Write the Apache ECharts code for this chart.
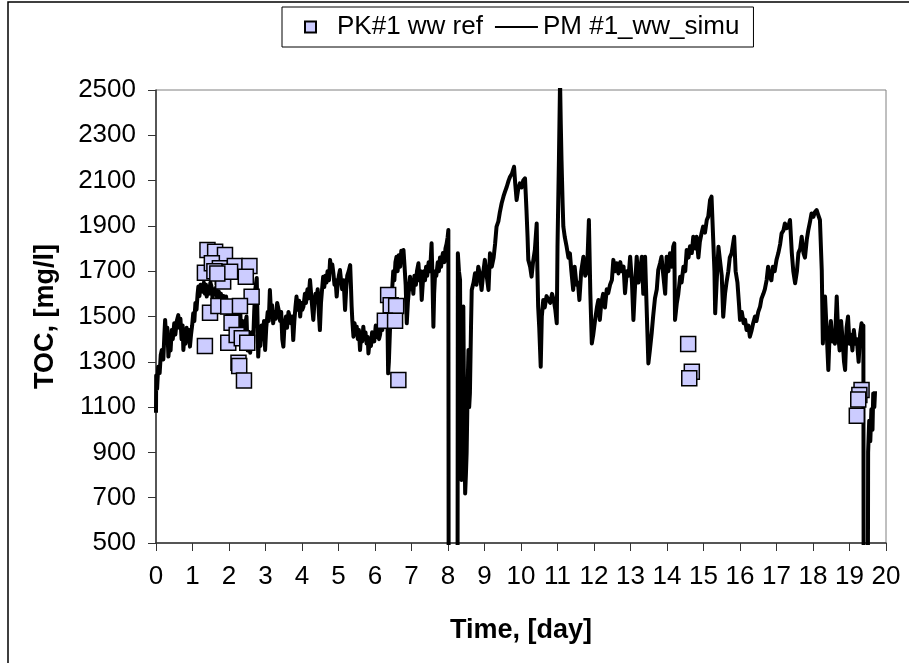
<!DOCTYPE html>
<html>
<head>
<meta charset="utf-8">
<script src="https://cdn.jsdelivr.net/npm/echarts@6/dist/echarts.min.js"></script>
<style>html,body{margin:0;padding:0;background:#fff}#c{width:909px;height:663px}</style>
</head>
<body>
<div id="c"></div>
<script>
// Simulated TOC (PM #1_ww_simu): [day, mg/l]
const simuPoints = [
[0,1075],[0.005,1240],[0.03,1180],[0.06,1278],[0.1,1250],[0.13,1330],[0.16,1352],[0.2,1310],[0.23,1420],[0.25,1485],[0.28,1400],[0.31,1450],[0.34,1323],[0.37,1380],[0.4,1350],[0.43,1440],[0.46,1400],[0.5,1470],[0.53,1420],[0.57,1480],[0.61,1506],[0.64,1450],[0.67,1490],[0.7,1400],[0.73,1460],[0.75,1352],[0.78,1420],[0.81,1380],[0.84,1450],[0.87,1400],[0.9,1440],[0.93,1367],[0.96,1420],[0.99,1460],
[1.02,1514],[1.05,1480],[1.08,1560],[1.11,1530],[1.14,1600],[1.16,1632],[1.19,1590],[1.22,1640],[1.25,1647],[1.28,1610],[1.31,1650],[1.34,1600],[1.37,1640],[1.39,1588],[1.42,1630],[1.45,1600],[1.49,1650],[1.52,1632],[1.55,1580],[1.58,1620],[1.62,1600],[1.65,1630],[1.68,1570],[1.72,1610],[1.75,1560],[1.78,1600],[1.82,1540],[1.85,1590],[1.88,1520],[1.92,1588],[1.95,1540],[1.98,1490],
[2.02,1550],[2.05,1470],[2.09,1530],[2.12,1460],[2.16,1540],[2.2,1480],[2.24,1550],[2.28,1455],[2.31,1515],[2.34,1400],[2.37,1480],[2.41,1360],[2.44,1460],[2.48,1500],[2.51,1350],[2.55,1420],[2.58,1340],[2.62,1430],[2.66,1380],[2.69,1520],[2.72,1620],[2.76,1670],[2.78,1500],[2.8,1323],[2.83,1420],[2.86,1370],[2.89,1460],[2.92,1400],[2.96,1480],[2.99,1352],
[3.02,1450],[3.06,1520],[3.09,1480],[3.12,1617],[3.15,1520],[3.18,1550],[3.21,1470],[3.25,1520],[3.28,1490],[3.32,1560],[3.36,1529],[3.4,1480],[3.43,1520],[3.46,1400],[3.49,1367],[3.52,1460],[3.56,1500],[3.59,1450],[3.63,1520],[3.67,1514],[3.7,1470],[3.73,1500],[3.76,1396],[3.79,1480],[3.82,1540],[3.85,1588],[3.88,1530],[3.92,1570],[3.95,1500],[3.98,1560],
[4.01,1530],[4.04,1544],[4.08,1600],[4.11,1560],[4.15,1620],[4.18,1580],[4.22,1661],[4.25,1600],[4.28,1540],[4.31,1485],[4.34,1560],[4.37,1600],[4.4,1573],[4.43,1620],[4.46,1520],[4.49,1440],[4.52,1560],[4.55,1620],[4.58,1676],[4.61,1630],[4.64,1680],[4.67,1650],[4.7,1700],[4.74,1660],[4.77,1750],[4.8,1700],[4.83,1730],[4.86,1691],[4.89,1640],[4.92,1660],[4.95,1588],[4.98,1650],
[5.01,1680],[5.04,1705],[5.07,1660],[5.1,1620],[5.14,1660],[5.18,1529],[5.21,1620],[5.24,1680],[5.28,1700],[5.32,1727],[5.34,1640],[5.36,1544],[5.38,1480],[5.41,1411],[5.44,1470],[5.47,1430],[5.5,1455],[5.53,1400],[5.56,1440],[5.59,1352],[5.62,1420],[5.65,1390],[5.68,1455],[5.71,1400],[5.74,1430],[5.77,1380],[5.8,1410],[5.82,1337],[5.86,1400],[5.89,1370],[5.92,1430],[5.95,1426],[5.98,1390],
[6.02,1460],[6.05,1410],[6.08,1450],[6.11,1400],[6.14,1420],[6.17,1470],[6.2,1440],[6.23,1499],[6.26,1460],[6.3,1520],[6.34,1500],[6.36,1249],[6.38,1300],[6.41,1440],[6.44,1560],[6.47,1620],[6.5,1700],[6.53,1660],[6.56,1740],[6.59,1764],[6.62,1700],[6.65,1770],[6.69,1720],[6.72,1790],[6.75,1750],[6.78,1794],[6.81,1720],[6.84,1640],[6.87,1470],[6.9,1560],[6.93,1620],[6.96,1676],[6.99,1620],
[7.02,1660],[7.05,1600],[7.08,1680],[7.12,1640],[7.15,1700],[7.19,1735],[7.22,1660],[7.25,1700],[7.28,1573],[7.31,1650],[7.34,1700],[7.37,1660],[7.4,1720],[7.43,1680],[7.47,1740],[7.51,1700],[7.55,1823],[7.57,1700],[7.6,1455],[7.62,1600],[7.65,1700],[7.68,1680],[7.72,1740],[7.75,1700],[7.78,1760],[7.81,1720],[7.83,1750],[7.86,1780],[7.9,1740],[7.93,1800],[7.96,1820],[7.99,1850],
[8.01,1882],[8.02,0],[8.26,0],[8.27,1779],[8.3,1700],[8.33,1661],[8.35,1000],[8.37,778],[8.4,1200],[8.42,1544],[8.44,1100],[8.47,719],[8.49,800],[8.51,896],[8.54,1200],[8.56,1352],[8.58,1100],[8.6,1160],[8.63,1450],[8.65,1617],[8.7,1650],[8.74,1691],[8.78,1640],[8.83,1720],[8.88,1680],[8.92,1617],[8.97,1700],
[9.01,1750],[9.06,1680],[9.11,1617],[9.15,1779],[9.2,1720],[9.25,1760],[9.29,1820],[9.33,1897],[9.38,1920],[9.42,1960],[9.47,2000],[9.52,2030],[9.56,2050],[9.61,2073],[9.66,2100],[9.7,2117],[9.75,2130],[9.81,2161],[9.84,2090],[9.88,2014],[9.92,2060],[9.97,2088],
[10.02,2070],[10.06,2100],[10.11,2110],[10.13,2040],[10.15,1970],[10.18,1850],[10.2,1750],[10.25,1720],[10.29,1676],[10.33,1740],[10.38,1794],[10.43,1911],[10.45,1700],[10.47,1544],[10.5,1450],[10.54,1278],[10.57,1500],[10.61,1573],[10.65,1540],[10.7,1590],[10.75,1590],[10.8,1560],[10.85,1600],[10.9,1570],[10.94,1530],[10.98,1470],
[11.0,1808],[11.04,2200],[11.07,2537],[11.09,2350],[11.11,2191],[11.14,2000],[11.16,1897],[11.2,1850],[11.25,1808],[11.3,1760],[11.34,1779],[11.38,1700],[11.43,1617],[11.47,1720],[11.52,1640],[11.56,1650],[11.6,1573],[11.65,1700],[11.71,1764],[11.76,1680],[11.81,1700],[11.86,1926],[11.9,1600],[11.94,1381],[11.98,1420],
[12.03,1485],[12.08,1540],[12.12,1573],[12.16,1485],[12.2,1560],[12.25,1600],[12.3,1540],[12.35,1620],[12.39,1603],[12.44,1640],[12.49,1661],[12.53,1750],[12.58,1700],[12.62,1735],[12.67,1690],[12.72,1740],[12.76,1700],[12.81,1720],[12.85,1603],[12.9,1700],[12.95,1680],[12.99,1764],
[13.04,1650],[13.08,1485],[13.12,1620],[13.17,1764],[13.22,1650],[13.26,1700],[13.31,1764],[13.35,1600],[13.4,1764],[13.44,1550],[13.49,1293],[13.53,1350],[13.58,1426],[13.62,1500],[13.67,1580],[13.72,1620],[13.76,1705],[13.81,1735],[13.85,1764],[13.9,1680],[13.95,1600],[13.99,1764],
[14.04,1700],[14.08,1779],[14.13,1720],[14.17,1808],[14.2,1823],[14.22,1485],[14.27,1560],[14.31,1600],[14.36,1676],[14.4,1650],[14.45,1720],[14.5,1700],[14.54,1794],[14.59,1760],[14.63,1810],[14.68,1780],[14.72,1852],[14.77,1800],[14.81,1852],[14.86,1760],[14.9,1830],[14.95,1870],[14.99,1897],
[15.04,1870],[15.09,1926],[15.13,1941],[15.18,2014],[15.22,2029],[15.27,2029],[15.3,1700],[15.32,1514],[15.36,1650],[15.41,1808],[15.45,1750],[15.5,1680],[15.54,1499],[15.59,1600],[15.63,1650],[15.68,1700],[15.72,1760],[15.77,1779],[15.84,1852],[15.88,1700],[15.93,1650],[15.97,1560],
[16.0,1485],[16.05,1520],[16.1,1470],[16.14,1485],[16.18,1440],[16.23,1460],[16.27,1411],[16.32,1440],[16.36,1470],[16.41,1500],[16.45,1480],[16.5,1520],[16.55,1544],[16.59,1580],[16.64,1600],[16.68,1620],[16.73,1661],[16.77,1720],[16.8,1680],[16.86,1660],[16.9,1720],[16.95,1700],
[17.0,1750],[17.05,1780],[17.1,1820],[17.14,1867],[17.19,1880],[17.23,1911],[17.28,1890],[17.33,1900],[17.37,1926],[17.42,1780],[17.46,1700],[17.51,1647],[17.56,1700],[17.6,1780],[17.65,1800],[17.69,1852],[17.74,1780],[17.78,1760],[17.83,1840],[17.87,1880],[17.92,1920],[17.96,1955],
[18.01,1940],[18.05,1960],[18.1,1970],[18.14,1950],[18.19,1926],[18.24,1705],[18.27,1381],[18.3,1500],[18.33,1588],[18.37,1450],[18.42,1264],[18.45,1400],[18.49,1480],[18.53,1390],[18.56,1420],[18.6,1380],[18.65,1588],[18.69,1420],[18.73,1350],[18.77,1480],[18.81,1400],[18.85,1300],[18.88,1264],[18.92,1450],[18.96,1500],
[19.0,1380],[19.04,1420],[19.08,1350],[19.12,1440],[19.16,1380],[19.2,1400],[19.25,1300],[19.29,1420],[19.33,1470],[19.36,1440],[19.38,1460],[19.39,0],[19.5,0],[19.51,900],[19.54,1040],[19.57,950],[19.6,1090],[19.63,1000],[19.65,1160],[19.68,1100],[19.7,1170]
];

// Measured TOC (PK#1 ww ref): [day, mg/l]
const refPoints = [
[1.41,1794],[1.62,1786],[1.89,1771],[1.34,1693],[1.53,1735],[1.75,1713],[1.83,1676],[1.84,1654],[2.16,1723],[2.56,1723],[2.46,1676],[2.03,1698],[1.6,1700],[1.68,1690],[2.62,1587],[1.48,1517],[1.71,1546],[1.98,1544],[2.3,1546],[2.07,1472],[1.34,1370],[1.98,1384],[2.21,1418],[2.35,1404],[2.5,1384],[2.26,1296],[2.28,1281],[2.41,1217],
[6.36,1595],[6.43,1550],[6.58,1546],[6.27,1481],[6.55,1481],[6.64,1220],
[14.58,1379],[14.68,1256],[14.61,1227],
[19.33,1175],[19.27,1153],[19.24,1134],[19.2,1062]
];

const seriesNames = ['PK#1 ww ref', 'PM #1_ww_simu'];
const xName = 'Time, [day]';
const yName = 'TOC, [mg/l]';

const FONT = 'Arial, "Liberation Sans", sans-serif';
const chart = echarts.init(document.getElementById('c'), null, {renderer: 'canvas'});
chart.setOption({
  animation: false,
  backgroundColor: '#fff',
  textStyle: {fontFamily: FONT, color: '#000'},
  graphic: [{
    type: 'rect', silent: true, z: -1,
    shape: {x: 8, y: 2, width: 920, height: 700},
    style: {fill: 'none', stroke: '#000', lineWidth: 1.5}
  }],
  grid: {left: 156, right: 23, top: 90, bottom: 120, show: true, borderColor: '#808080', borderWidth: 1, backgroundColor: 'transparent'},
  legend: {
    left: 282, top: 7,
    data: [
      {name: seriesNames[0], icon: 'path://M0,0H10V10H0Z'},
      {name: seriesNames[1], icon: 'path://M0,0H43V2H0Z', itemStyle: {color: '#000'}}
    ],
    itemWidth: 43, itemHeight: 11, itemGap: 12,
    padding: [7, 14, 7, 22],
    borderColor: '#000', borderWidth: 1, backgroundColor: '#fff',
    textStyle: {fontSize: 26, fontFamily: FONT, color: '#000'}
  },
  xAxis: {
    type: 'value', min: 0, max: 20, interval: 1,
    name: xName, nameLocation: 'middle', nameGap: 74,
    nameTextStyle: {fontSize: 27, fontWeight: 'bold', fontFamily: FONT, color: '#000'},
    axisLine: {lineStyle: {color: '#333', width: 1.5}},
    axisTick: {show: true, length: 8, lineStyle: {color: '#333'}},
    axisLabel: {fontSize: 26, color: '#000', margin: 21, interval: 0, fontFamily: FONT},
    splitLine: {show: false}
  },
  yAxis: {
    type: 'value', min: 500, max: 2500, interval: 200,
    name: yName, nameLocation: 'middle', nameGap: 97, nameRotate: 90,
    nameTextStyle: {fontSize: 27, fontWeight: 'bold', fontFamily: FONT, color: '#000'},
    axisLine: {show: true, lineStyle: {color: '#333', width: 1.5}},
    axisTick: {show: true, length: 8, lineStyle: {color: '#333'}},
    axisLabel: {fontSize: 26, color: '#000', margin: 20, fontFamily: FONT, formatter: v => String(v)},
    splitLine: {show: false}
  },
  series: [
    {
      name: seriesNames[1], type: 'line', z: 2,
      data: simuPoints, symbol: 'none', showSymbol: false, clip: true,
      sampling: null,
      lineStyle: {color: '#000', width: 4, join: 'round'},
      itemStyle: {color: '#000'}
    },
    {
      name: seriesNames[0], type: 'scatter', z: 3,
      data: refPoints, symbol: 'rect', symbolSize: 15,
      itemStyle: {color: '#ccccff', borderColor: '#000', borderWidth: 1.5, opacity: 1}
    }
  ]
});
</script>
</body>
</html>
